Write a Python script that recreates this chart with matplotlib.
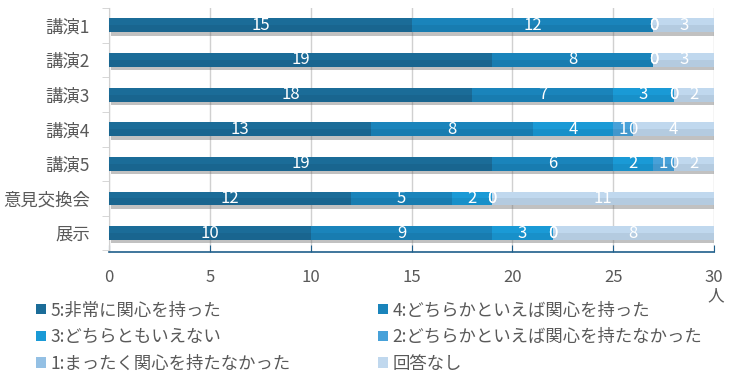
import numpy as np
import matplotlib.pyplot as plt
import matplotlib.patheffects as pe
from matplotlib.patches import Patch

plt.rcParams['font.family'] = ['Noto Sans CJK JP', 'DejaVu Sans']

# データ
categories = ['講演1', '講演2', '講演3', '講演4', '講演5', '意見交換会', '展示']
series_names = ['5:非常に関心を持った', '4:どちらかといえば関心を持った', '3:どちらともいえない',
                '2:どちらかといえば関心を持たなかった', '1:まったく関心を持たなかった', '回答なし']
v5 = [15, 19, 18, 13, 19, 12, 10]
v4 = [12, 8, 7, 8, 6, 5, 9]
v3 = [0, 0, 3, 4, 2, 2, 3]
v2 = [0, 0, 0, 1, 1, 0, 0]
v1 = [0, 0, 0, 0, 0, 0, 0]
v0 = [3, 3, 2, 4, 2, 11, 8]
values = [v5, v4, v3, v2, v1, v0]
colors = ['#1b6c98', '#1a84bb', '#1a9ad6', '#47a1d9', '#94c0e4', '#c0d8ee']

fig = plt.figure(figsize=(7.33, 3.82), dpi=100)
ax = fig.add_axes([0.149, 0.340, 0.825, 0.639])

y = np.arange(len(categories))
bh = 0.4
left = np.zeros(len(categories))
shadow = [pe.SimplePatchShadow(offset=(1.5, -2.5), shadow_rgbFace='#666666', alpha=0.4), pe.Normal()]
for name, vals, c in zip(series_names, values, colors):
    vals = np.array(vals, dtype=float)
    bars = ax.barh(y, vals, left=left, height=bh, color=c, zorder=3)
    for b in bars:
        b.set_path_effects(shadow)
    # 下側を少し暗くして立体感を出す
    ax.barh(y + bh * 0.25, vals, left=left, height=bh * 0.5, color='black', alpha=0.06,
            linewidth=0, zorder=4)
    for yi, l, v in zip(y, left, vals):
        ax.text(l + v / 2, yi, f'{int(v)}', ha='center', va='center', color='white',
                fontsize=12, zorder=5)
    left += vals

ax.set_xlim(0, 30)
ax.set_ylim(6.55, -0.5)
ax.set_xticks(np.arange(0, 31, 5))
ax.set_yticks(y)
ax.set_yticklabels(categories)
ax.grid(axis='x', color='#d0d0d0', linewidth=1, zorder=0)
ax.set_axisbelow(True)

for s in ['top', 'right']:
    ax.spines[s].set_visible(False)
ax.spines['left'].set_color('#d0d0d0')
ax.spines['bottom'].set_color('#1f5f8b')
ax.spines['bottom'].set_linewidth(1.2)
ax.tick_params(axis='y', length=0, colors='#595959', labelsize=12.5, pad=14)
ax.tick_params(axis='x', direction='in', length=5, color='#1f5f8b', labelcolor='#595959',
               labelsize=12, pad=12)
# 左軸の区切り目盛り
ax.set_yticks(np.arange(-0.5, 7, 1), minor=True)
ax.tick_params(axis='y', which='minor', length=5, color='#d0d0d0')

fig.text(0.977, 0.225, '人', ha='center', va='center', color='#595959', fontsize=12)

order = [0, 2, 4, 1, 3, 5]
handles = [Patch(facecolor=colors[i]) for i in order]
fig.legend(handles, [series_names[i] for i in order],
           ncol=2, loc='upper left', bbox_to_anchor=(0.028, 0.252), frameon=False,
           fontsize=12.5, handlelength=0.55, handleheight=0.55, handletextpad=0.3,
           columnspacing=5.0, labelspacing=0.5, labelcolor='#595959')

fig.savefig('out.png', dpi=100)
